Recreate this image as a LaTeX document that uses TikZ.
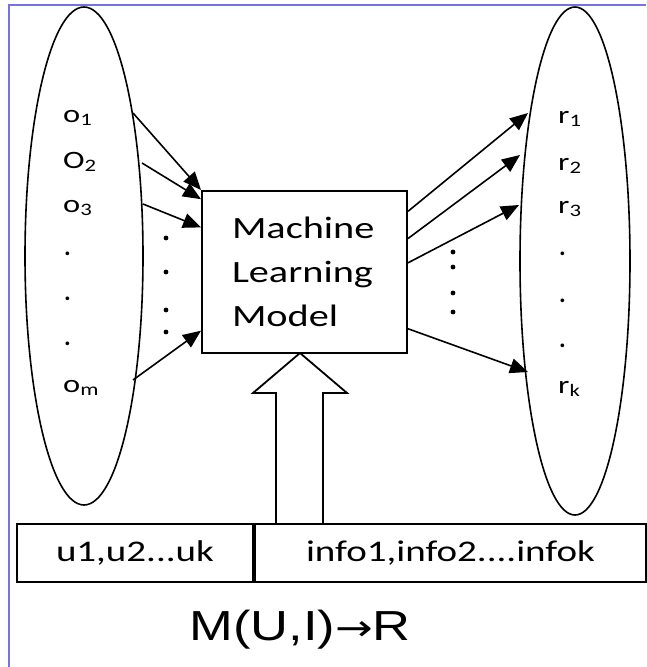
\documentclass[tikz,border=0pt]{standalone}
\usepackage{fontspec}
\setmainfont{Carlito}
\newfontfamily\arialfont{Liberation Sans}
\newfontfamily\arrowfont{DejaVu Sans}
\usepackage{graphicx}
\usetikzlibrary{shapes.geometric,arrows.meta,positioning,calc}
\definecolor{frameblue}{RGB}{115,115,225}
\newcommand{\hwide}[1]{\scalebox{1.3}[1]{#1}}

\begin{document}
\begin{tikzpicture}[x=1pt,y=-1pt,
    set/.style={draw, ellipse, line width=1.6pt, inner sep=0pt},
    lbl/.style={anchor=base west, inner sep=0pt, font=\fontsize{25}{25}\selectfont},
    conn/.style={line width=1.6pt, -{Triangle[length=18pt,width=15pt]}},
    cell/.style={draw, line width=2pt, minimum height=58pt, inner sep=0pt, font=\fontsize{30}{30}\selectfont}]

    \useasboundingbox (0,0) rectangle (646,667);
    % Frame
    \draw[frameblue, line width=1.5pt] (9,667) -- (9,5) -- (646,5);

    % Object set (left) and result set (right)
    \node[set, minimum width=118pt, minimum height=498pt] (objs) at (84,256) {};
    \node[set, minimum width=110pt, minimum height=508pt] (recs) at (575,261) {};

    \node[lbl] (o1) at (63,122) {\hwide{o\textsubscript{1}}};
    \node[lbl] (o2) at (63,168) {\hwide{O\textsubscript{2}}};
    \node[lbl] (o3) at (63,212) {\hwide{o\textsubscript{3}}};
    \foreach \y/\n in {255/1,300/2,345/3}
        \node[lbl] (od\n) at (64,\y) {\textbf{.}};
    \node[lbl] (om) at (63,392) {\hwide{o\textsubscript{m}}};

    \node[lbl] (r1) at (558,123) {\hwide{r\textsubscript{1}}};
    \node[lbl] (r2) at (558,170) {\hwide{r\textsubscript{2}}};
    \node[lbl] (r3) at (558,213) {\hwide{r\textsubscript{3}}};
    \foreach \y/\n in {255/1,302/2,347/3}
        \node[lbl] (rd\n) at (559,\y) {\textbf{.}};
    \node[lbl] (rk) at (558,393) {\hwide{r\textsubscript{k}}};

    % Model
    \node[draw, line width=2pt, minimum width=205pt, minimum height=162pt, inner sep=0pt,
        text width=145pt, align=left, font=\fontsize{31}{44}\selectfont] (model) at (304.5,272)
        {\hwide{Machine}\\\hwide{Learning}\\\hwide{Model}};

    % Inputs
    \coordinate (o1out) at (133,113);
    \coordinate (o2out) at (142,163);
    \coordinate (o3out) at (143,204);
    \coordinate (omout) at (133,380);
    \draw[conn] (o1out) -- (model.north west);
    \draw[conn] (o2out) -- ($(model.north west)!0.056!(model.south west)$);
    \draw[conn] (o3out) -- ($(model.north west)!0.228!(model.south west)$);
    \draw[conn] (omout) -- ($(model.north west)!0.858!(model.south west)$);
    \foreach \y in {238,272,310,332}
        \fill (166,\y) circle (2.4pt);

    % Outputs
    \coordinate (r1in) at (528,113);
    \coordinate (r2in) at (520,155);
    \coordinate (r3in) at (519,205);
    \coordinate (rkin) at (528,372);
    \draw[conn] ($(model.north east)!0.13!(model.south east)$) -- (r1in);
    \draw[conn] ($(model.north east)!0.296!(model.south east)$) -- (r2in);
    \draw[conn] ($(model.north east)!0.444!(model.south east)$) -- (r3in);
    \draw[conn] ($(model.north east)!0.846!(model.south east)$) -- (rkin);
    \foreach \y in {252,267,293,312}
        \fill (453,\y) circle (2.4pt);

    % Hollow arrow into the model
    \draw[line width=1.8pt, fill=white] (276,524) -- (276,393) -- (253,393) -- (300,353)
        -- (347,393) -- (323,393) -- (323,524);

    % User / info table
    \node[cell, minimum width=236pt] (users) at (135,553) {\hwide{u1,u2...uk}};
    \node[cell, minimum width=391pt, anchor=west] (infos) at (users.east) {\hwide{info1,info2....infok}};

    \node[font=\arialfont\fontsize{42}{42}\selectfont] (formula) at (300,630)
        {\scalebox{1.25}[1]{M(U,I){\arrowfont\fontsize{36}{36}\selectfont →}R}};
\end{tikzpicture}
\end{document}
